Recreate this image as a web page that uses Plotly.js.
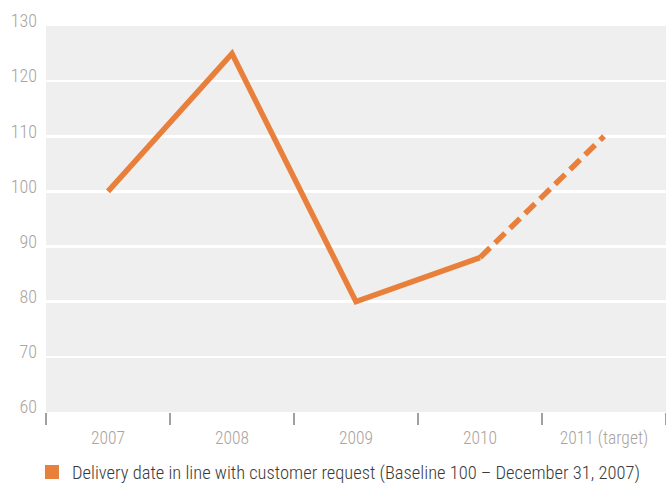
<!DOCTYPE html>
<html>
<head>
<meta charset="utf-8">
<script src="https://cdn.plot.ly/plotly-3.0.1.min.js"></script>
<style>html,body{margin:0;padding:0;background:#fff;}#chart{width:666px;height:484px;}</style>
</head>
<body>
<div id="chart"></div>
<script>
const categories = ["2007", "2008", "2009", "2010", "2011 (target)"];
const values = [100, 125, 80, 88, 110];
const actualCount = 4; // 2007–2010 solid, 2010–2011 dashed target
const legendLabel = "Delivery date in line with customer request (Baseline 100 – December 31, 2007)";
const yTicks = [60, 70, 80, 90, 100, 110, 120, 130];

const orange = "#e8803b";
const FONT = "'Roboto Condensed', 'Liberation Sans Narrow', 'Arial Narrow', sans-serif";

const traces = [
  {
    x: categories.slice(0, actualCount),
    y: values.slice(0, actualCount),
    type: "scatter", mode: "lines",
    line: {color: orange, width: 5.5},
    showlegend: false, hoverinfo: "skip"
  },
  {
    x: categories.slice(actualCount - 1),
    y: values.slice(actualCount - 1),
    type: "scatter", mode: "lines",
    line: {color: orange, width: 5.5, dash: "14px,7px"},
    showlegend: false, hoverinfo: "skip"
  },
  {
    x: [null], y: [null],
    type: "scatter", mode: "markers",
    name: legendLabel,
    marker: {symbol: "square", size: 14, color: orange},
    showlegend: true
  }
];

const layout = {
  width: 666, height: 484,
  margin: {l: 46, r: 0, t: 26, b: 72, pad: 0},
  paper_bgcolor: "#ffffff",
  plot_bgcolor: "#efefef",
  font: {family: FONT, size: 17.5, color: "#aaa39e", weight: 300},
  showlegend: true,
  legend: {
    orientation: "h",
    xref: "container", yref: "container",
    x: 0.048, xanchor: "left",
    y: 0.024, yanchor: "middle",
    font: {family: FONT, size: 18.5, color: "#3a3a3a", weight: 300},
    bgcolor: "rgba(0,0,0,0)",
    itemclick: false, itemdoubleclick: false
  },
  xaxis: {
    type: "category",
    categoryorder: "array", categoryarray: categories,
    range: [-0.5, 4.5],
    automargin: false,
    showgrid: false, zeroline: false, showline: false,
    ticks: "outside", tickson: "boundaries",
    ticklen: 12, tickwidth: 2, tickcolor: "#a0a0a0",
    ticklabelstandoff: 13,
    tickfont: {family: FONT, size: 17.5, color: "#aaa39e", weight: 300},
    fixedrange: true
  },
  yaxis: {
    range: [60, 130],
    tickvals: yTicks,
    automargin: false,
    showgrid: true, gridcolor: "#ffffff", gridwidth: 2.5,
    zeroline: false, showline: false,
    ticks: "",
    ticklabelstandoff: 8,
    ticklabelshift: -5,
    tickfont: {family: FONT, size: 18, color: "#aaa39e", weight: 300},
    fixedrange: true
  }
};

Plotly.newPlot("chart", traces, layout, {displayModeBar: false, staticPlot: true});
</script>
</body>
</html>
